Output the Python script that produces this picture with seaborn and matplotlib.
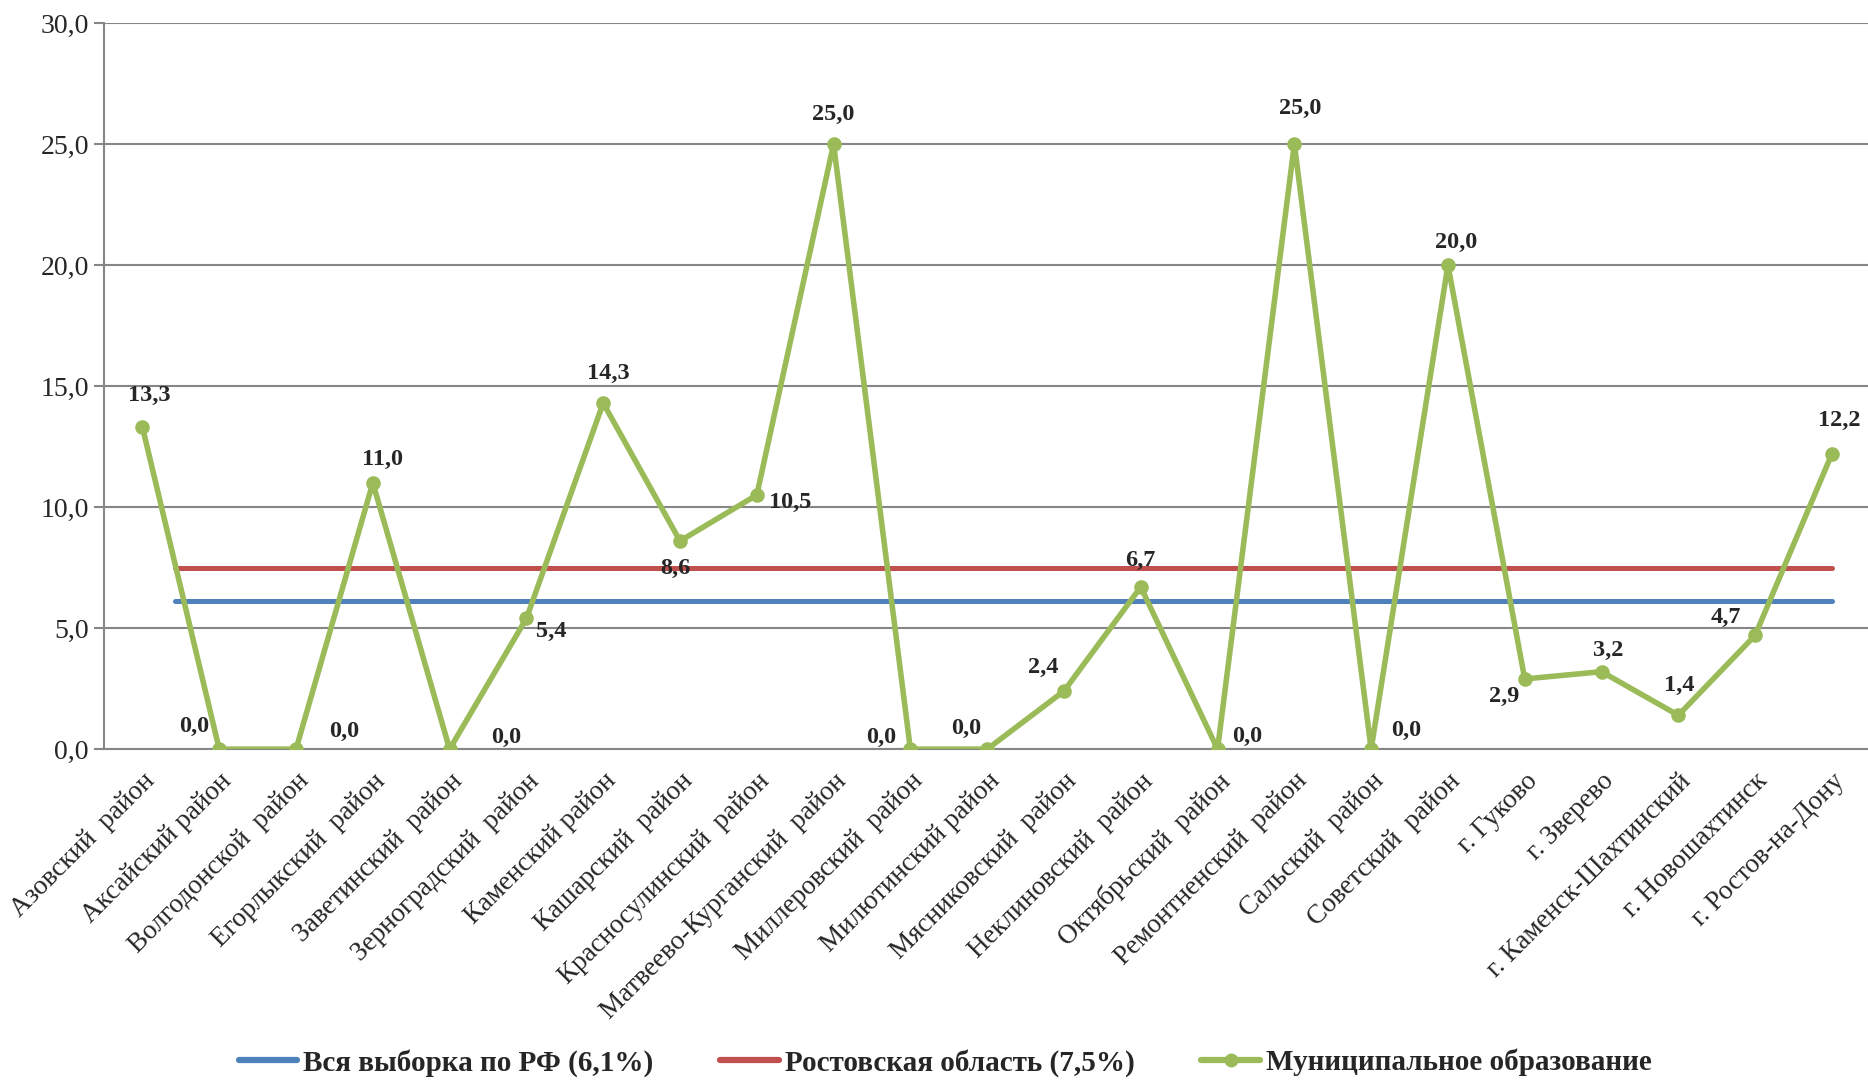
import numpy as np
import pandas as pd
import seaborn as sns
import matplotlib.pyplot as plt
from matplotlib.lines import Line2D
from matplotlib.ticker import FixedLocator, FuncFormatter

# data
districts = ["Азовский  район", "Аксайский район", "Волгодонской  район", "Егорлыкский  район",
             "Заветинский  район", "Зерноградский  район", "Каменский район", "Кашарский  район",
             "Красносулинский  район", "Матвеево-Курганский  район", "Миллеровский  район",
             "Милютинский район", "Мясниковский  район", "Неклиновский  район", "Октябрьский  район",
             "Ремонтненский  район", "Сальский  район", "Советский  район", "г. Гуково", "г. Зверево",
             "г. Каменск-Шахтинский", "г. Новошахтинск", "г. Ростов-на-Дону"]
municipal = [13.3, 0.0, 0.0, 11.0, 0.0, 5.4, 14.3, 8.6, 10.5, 25.0, 0.0, 0.0, 2.4, 6.7, 0.0,
             25.0, 0.0, 20.0, 2.9, 3.2, 1.4, 4.7, 12.2]
rf_all = 6.1
rostov_obl = 7.5
legend_labels = ["Вся выборка по РФ (6,1%)", "Ростовская область (7,5%)", "Муниципальное образование"]

# label offsets (pixels) for data labels
offsets = [(7, 32), (-25, 23), (48, 18), (10, 23), (57, 12), (25, -13), (5, 30), (-5, -27),
           (33, -7), (0, 30), (-29, 12), (-21, 21), (-21, 24), (0, 27), (30, 13), (6, 36),
           (35, 19), (8, 23), (-21, -18), (7, 21), (1, 30), (-29, 18), (7, 33)]

BLUE, RED, GREEN = "#4F81BD", "#C0504D", "#9BBB59"
GRID = "#868686"

sns.set_style("white")
plt.rcParams['font.family'] = ['Liberation Serif', 'DejaVu Serif']

df = pd.DataFrame({"x": np.arange(len(districts)), "value": municipal})

fig = plt.figure(figsize=(18.68, 10.81), dpi=100)
ax = fig.add_axes([0.0557, 0.307, 0.9443, 0.6717])

ax.hlines(rf_all, 0.43, len(districts) - 1, color=BLUE, lw=3.6, capstyle='round', zorder=2)
ax.hlines(rostov_obl, 0.43, len(districts) - 1, color=RED, lw=3.6, capstyle='round', zorder=2)
sns.lineplot(data=df, x="x", y="value", color=GREEN, lw=4, marker='o', markersize=10.5,
             markeredgewidth=0, ax=ax, zorder=3)

for i, v in enumerate(municipal):
    ax.annotate(f"{v:.1f}".replace('.', ','), (i, v), xytext=offsets[i], textcoords='offset pixels',
                ha='center', va='center', fontsize=17.5, fontweight='bold', zorder=4)

ax.set_xlim(-0.5, len(districts) - 0.53)
ax.set_ylim(0, 30)
ax.set_yticks(np.arange(0, 31, 5))
ax.yaxis.set_major_formatter(FuncFormatter(lambda v, p: f"{v:.1f}".replace('.', ',')))
ax.grid(axis='y', color=GRID, lw=1.5)
ax.set_axisbelow(True)

ax.set_xticks(np.arange(len(districts)))
ax.set_xticklabels(districts, rotation=45, ha='right', va='top', rotation_mode='anchor')
ax.xaxis.set_minor_locator(FixedLocator(np.arange(-0.5, len(districts), 1)))
ax.tick_params(axis='x', which='major', length=0, pad=14, labelsize=19.5)
ax.tick_params(axis='x', which='minor', length=7, width=1.5, color=GRID, direction='out')
ax.tick_params(axis='y', length=7, width=1.5, color=GRID, labelsize=20, pad=4, left=True)

for s in ['top', 'right']:
    ax.spines[s].set_visible(False)
for s in ['left', 'bottom']:
    ax.spines[s].set_color(GRID)
    ax.spines[s].set_linewidth(1.5)
ax.set_xlabel("")
ax.set_ylabel("")

handles = [Line2D([], [], color=BLUE, lw=4.5, solid_capstyle='round'),
           Line2D([], [], color=RED, lw=4.5, solid_capstyle='round'),
           Line2D([], [], color=GREEN, lw=4.5, marker='o', markersize=10, markeredgewidth=0)]
fig.legend(handles, legend_labels, loc='center', bbox_to_anchor=(0.506, 0.017), ncol=3,
           frameon=False, prop={'weight': 'bold', 'size': 21}, handlelength=2.0,
           handletextpad=0.2, columnspacing=2.3)

fig.savefig("out.png", dpi=100)
